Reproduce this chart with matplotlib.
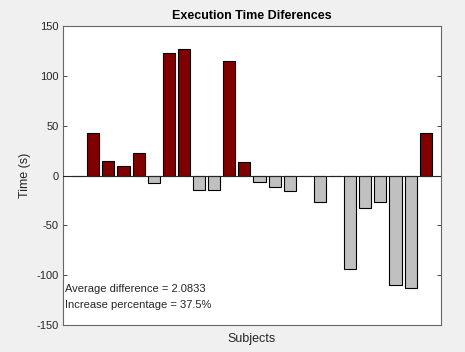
import matplotlib
matplotlib.use("Agg")
import matplotlib.pyplot as plt

subjects = list(range(1, 25))
diffs = [0, 43.1, 14.4, 9.4, 22.4, -7.3, 123, 126.7, -14.4, -14.4, 114.6, 13.4,
         -6.4, -11.7, -15.4, 0, -27, 0, -93.6, -33, -27, -110.3, -112.6, 43]
info_lines = ["Average difference = 2.0833", "Increase percentage = 37.5%"]

plt.rcParams['font.family'] = ['Liberation Sans', 'DejaVu Sans']
plt.rcParams['axes.unicode_minus'] = False

colors = ['#800000' if d > 0 else '#c0c0c0' for d in diffs]

fig = plt.figure(figsize=(4.65, 3.52), dpi=100, facecolor='#f0f0f0')
ax = fig.add_axes([0.1355, 0.0767, 0.8125, 0.8493])
ax.bar(subjects, diffs, width=0.8, color=colors, edgecolor='black', linewidth=0.8, zorder=2)
ax.axhline(0, color='#262626', linewidth=0.8, zorder=3)

ax.set_xlim(0, 25)
ax.set_ylim(-150, 150)
ax.set_yticks([-150, -100, -50, 0, 50, 100, 150])
ax.set_xticks([])
ax.tick_params(axis='y', direction='in', length=3, width=0.6, colors='#262626',
               labelsize=8, right=True, left=True, pad=3)
for s in ax.spines.values():
    s.set_color('#666666')
    s.set_linewidth(0.8)

ax.set_title("Execution Time Diferences", fontsize=9, fontweight='bold', color='black', pad=5)
ax.set_xlabel("Subjects", fontsize=9, color='#262626', labelpad=6)
ax.set_ylabel("Time (s)", fontsize=9, color='#262626', labelpad=4)

ax.text(0.1, -114, info_lines[0], fontsize=8, va='center', ha='left', color='#262626')
ax.text(0.1, -129.5, info_lines[1], fontsize=8, va='center', ha='left', color='#262626')

fig.savefig("out.png", dpi=100, facecolor=fig.get_facecolor())
